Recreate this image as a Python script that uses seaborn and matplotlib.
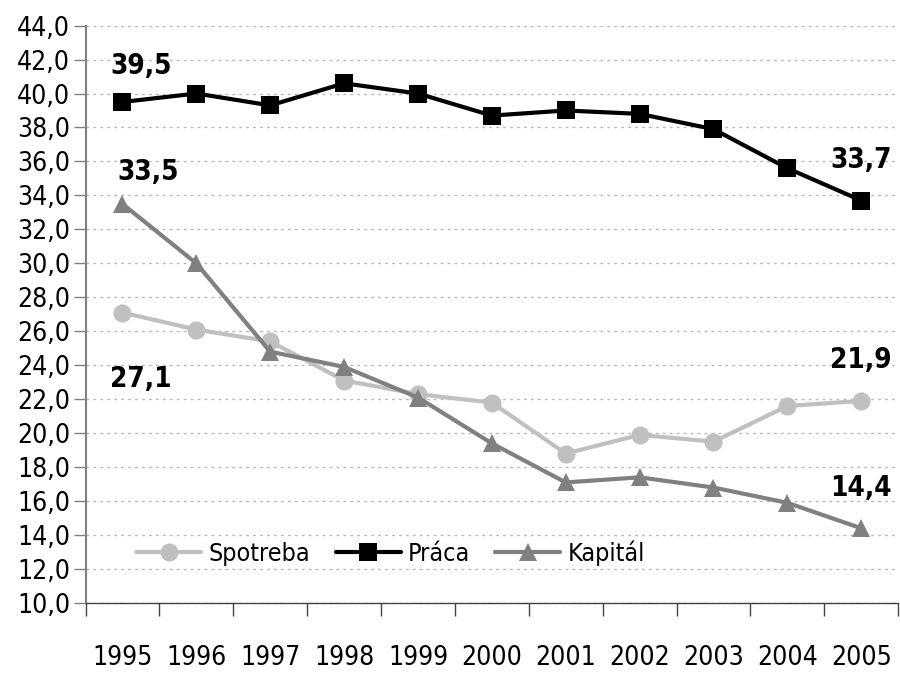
import pandas as pd
import matplotlib.pyplot as plt
import seaborn as sns
import numpy as np
from matplotlib.ticker import FixedLocator

years = [1995, 1996, 1997, 1998, 1999, 2000, 2001, 2002, 2003, 2004, 2005]
spotreba = [27.1, 26.1, 25.4, 23.1, 22.3, 21.8, 18.8, 19.9, 19.5, 21.6, 21.9]
praca = [39.5, 40.0, 39.3, 40.6, 40.0, 38.7, 39.0, 38.8, 37.9, 35.6, 33.7]
kapital = [33.5, 30.0, 24.8, 23.9, 22.1, 19.4, 17.1, 17.4, 16.8, 15.9, 14.4]

series_names = ["Spotreba", "Práca", "Kapitál"]
series_colors = ["#c0c0c0", "#000000", "#808080"]
series_markers = ["o", "s", "^"]

df = pd.DataFrame({
    "Rok": years * 3,
    "Hodnota": spotreba + praca + kapital,
    "Rad": [n for n in series_names for _ in years],
})

sns.set_theme(style="white")
plt.rcParams['font.family'] = ['DejaVu Sans', 'Liberation Sans']
plt.rcParams['font.stretch'] = 'condensed'

fig, ax = plt.subplots(figsize=(9, 6.73), dpi=100)
fig.subplots_adjust(left=0.095, right=0.998, top=0.962, bottom=0.104)

sns.lineplot(data=df, x="Rok", y="Hodnota", hue="Rad", style="Rad",
             hue_order=series_names, style_order=series_names,
             palette=series_colors, markers=dict(zip(series_names, series_markers)),
             dashes=False, linewidth=3, markersize=13, markeredgewidth=0,
             ax=ax)

ax.set_ylim(10, 44)
ax.set_yticks(np.arange(10, 44.1, 2))
ax.set_yticklabels([f"{v:.1f}".replace(".", ",") for v in np.arange(10, 44.1, 2)],
                   fontsize=19, color="black")
ax.set_xlim(years[0] - 0.5, years[-1] + 0.5)
ax.set_xticks(years)
ax.set_xticklabels([str(y) for y in years], fontsize=19, color="black")
ax.xaxis.set_minor_locator(FixedLocator(np.arange(years[0] - 0.5, years[-1] + 0.6, 1)))
ax.tick_params(axis="x", which="major", length=0, pad=30)
ax.tick_params(axis="x", which="minor", length=9, width=1, color="#444444", bottom=True)
ax.tick_params(axis="y", length=9, width=1, color="#808080", left=True, pad=2)
ax.set_xlabel("")
ax.set_ylabel("")

ax.grid(axis="y", color="#b8b8b8", linestyle=(0, (2, 3)), linewidth=1)
for s in ["top", "right"]:
    ax.spines[s].set_visible(False)
ax.spines["left"].set_color("#808080")
ax.spines["left"].set_linewidth(1.5)
ax.spines["bottom"].set_color("#444444")
ax.spines["bottom"].set_linewidth(1)

# value labels at the first and last year
labels = [(years[0], praca[0], 0.25, 2.1), (years[0], kapital[0], 0.35, 1.9),
          (years[0], spotreba[0], 0.25, -3.9), (years[-1], praca[-1], 0.0, 2.4),
          (years[-1], spotreba[-1], 0.0, 2.4), (years[-1], kapital[-1], 0.0, 2.4)]
for x, v, dx, dy in labels:
    ax.text(x + dx, v + dy, f"{v:.1f}".replace(".", ","), fontsize=20,
            fontweight="bold", ha="center", va="center", color="black")

leg = ax.legend(loc="lower left", bbox_to_anchor=(0.035, 0.025), ncol=3, frameon=False,
                fontsize=18, handlelength=2.6, columnspacing=1.0, handletextpad=0.3)
for t in leg.get_texts():
    t.set_color("black")
for h in leg.legend_handles:
    h.set_markersize(13)

plt.savefig("out.png", dpi=100)
plt.close()
